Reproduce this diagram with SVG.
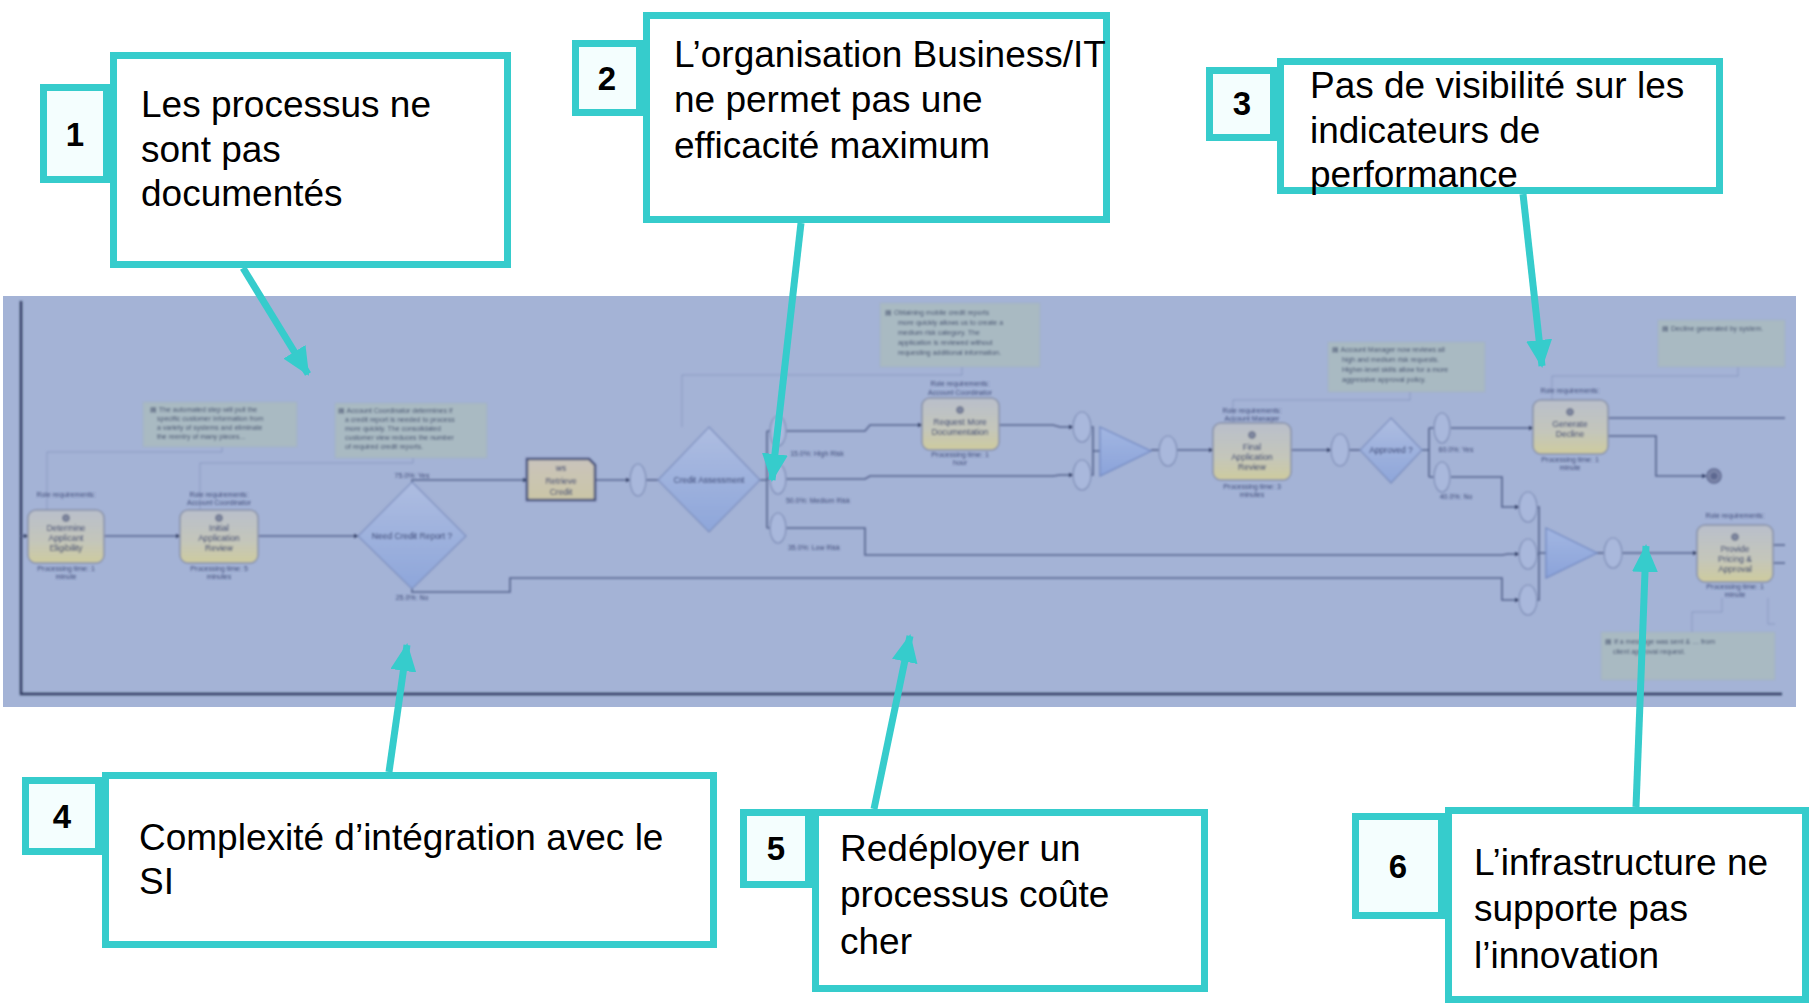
<svg xmlns="http://www.w3.org/2000/svg" width="1813" height="1004" viewBox="0 0 1813 1004">
<style>
.box{fill:#ffffff;stroke:#36CCCC;stroke-width:7}
.nbox{fill:#F4FEFE;stroke:#36CCCC;stroke-width:7}
.ct{font-family:"Liberation Sans",Arial,sans-serif;font-size:37px;fill:#000}
.num{font-family:"Liberation Sans",Arial,sans-serif;font-size:33px;font-weight:bold;fill:#000;text-anchor:middle}
.lead{stroke:#36CCCC;stroke-width:7;fill:none}
.task{fill:url(#taskGrad);stroke:#8790A8;stroke-width:1.5}
.dia{fill:url(#diaGrad);stroke:#7C8EBE;stroke-width:1.2}
.tri{fill:url(#triGrad);stroke:#6F86C0;stroke-width:1.2}
.ov{fill:#A9B8DC;stroke:#7D8CB5;stroke-width:1.2}
.note{fill:#A9BAC2;stroke:#A2B1C8;stroke-width:1}
.flow{stroke:#56648E;stroke-width:1.6;fill:none}
.ann{stroke:#8A99C2;stroke-width:1;fill:none}
.tn{font-family:"Liberation Sans",Arial,sans-serif;font-size:8.5px;fill:#2F3B6B;text-anchor:middle}
.sm{font-family:"Liberation Sans",Arial,sans-serif;font-size:7px;fill:#3F4B78;text-anchor:middle}
.nt{font-family:"Liberation Sans",Arial,sans-serif;font-size:7px;fill:#44506E}
.ic{fill:#7E869E;stroke:#5E6784;stroke-width:0.8}
</style>
<defs>
<linearGradient id="taskGrad" x1="0" y1="0" x2="0" y2="1">
<stop offset="0" stop-color="#B9BFCB"/><stop offset="0.6" stop-color="#C4C6BA"/><stop offset="1" stop-color="#CECB9E"/>
</linearGradient>
<linearGradient id="diaGrad" x1="0" y1="0" x2="0" y2="1">
<stop offset="0" stop-color="#AEBDE1"/><stop offset="1" stop-color="#8EA6DA"/>
</linearGradient>
<linearGradient id="triGrad" x1="0" y1="0" x2="0" y2="1">
<stop offset="0" stop-color="#A2B6E2"/><stop offset="1" stop-color="#8BA3DA"/>
</linearGradient>
<linearGradient id="retGrad" x1="0" y1="0" x2="0" y2="1">
<stop offset="0" stop-color="#C9C4BC"/><stop offset="1" stop-color="#CBC6A6"/>
</linearGradient>
<marker id="ah" viewBox="0 0 10 10" refX="9" refY="5" markerWidth="5" markerHeight="5" markerUnits="userSpaceOnUse" orient="auto">
<path d="M0,0 L10,5 L0,10 z" fill="#2E3A62"/>
</marker>
<marker id="cyan" viewBox="0 0 28 26" refX="26" refY="13" markerWidth="28" markerHeight="26" markerUnits="userSpaceOnUse" orient="auto">
<path d="M0,0 L28,13 L0,26 z" fill="#36CCCC"/>
</marker>
<filter id="soft" x="-1%" y="-5%" width="102%" height="110%">
<feGaussianBlur stdDeviation="0.8"/>
</filter>
</defs>

<rect width="1813" height="1004" fill="#ffffff"/>

<!-- process panel -->
<g id="process-panel">
<rect x="3" y="296" width="1793" height="411" fill="#A4B3D6"/>
<g filter="url(#soft)">
<path d="M21,301 V694 H1782" stroke="#2D3B60" stroke-width="2.5" fill="none"/>

<g id="notes">
<rect class="note" x="143" y="402" width="154" height="45"/>
<text class="nt" x="150" y="412">&#9636; The automated step will pull the</text>
<text class="nt" x="157" y="421">specific customer information from</text>
<text class="nt" x="157" y="430">a variety of systems and eliminate</text>
<text class="nt" x="157" y="439">the reentry of many pieces...</text>
<rect class="note" x="335" y="403" width="152" height="55"/>
<text class="nt" x="338" y="413">&#9636; Account Coordinator determines if</text>
<text class="nt" x="345" y="422">a credit report is needed to process</text>
<text class="nt" x="345" y="431">more quickly.  The consolidated</text>
<text class="nt" x="345" y="440">customer view reduces the number</text>
<text class="nt" x="345" y="449">of required credit reports.</text>
<rect class="note" x="880" y="303" width="160" height="64"/>
<text class="nt" x="885" y="315">&#9636; Obtaining mobile credit reports</text>
<text class="nt" x="898" y="325">more quickly allows us to create a</text>
<text class="nt" x="898" y="335">medium risk category.  The</text>
<text class="nt" x="898" y="345">application is reviewed without</text>
<text class="nt" x="898" y="355">requesting additional information.</text>
<rect class="note" x="1328" y="342" width="157" height="50"/>
<text class="nt" x="1332" y="352">&#9636; Account Manager now reviews all</text>
<text class="nt" x="1342" y="362">high and medium risk requests.</text>
<text class="nt" x="1342" y="372">Higher-level skills allow for a more</text>
<text class="nt" x="1342" y="382">aggressive approval policy.</text>
<rect class="note" x="1658" y="320" width="127" height="47"/>
<text class="nt" x="1662" y="331">&#9636; Decline generated by system.</text>
<rect class="note" x="1601" y="632" width="174" height="48"/>
<text class="nt" x="1605" y="644">&#9636; If a message was sent &amp; &#8230; from</text>
<text class="nt" x="1613" y="654">client approval request.</text>
</g>

<g id="annotation-lines">
<path class="ann" d="M47,510 V452 H222 V447"/>
<path class="ann" d="M200,510 V463 H413 V458"/>
<path class="ann" d="M682,427 V375 H962 V367"/>
<path class="ann" d="M1233,423 V400 H1410 V392"/>
<path class="ann" d="M1552,400 V376 H1738 V367"/>
<path class="ann" d="M1722,598 V612 H1692 V632"/>
<path class="ann" d="M1768,598 V624 H1775"/>
</g>

<g id="flows">
<path class="flow" d="M21,536 H28" marker-end="url(#ah)"/>
<path class="flow" d="M104,536 H180" marker-end="url(#ah)"/>
<path class="flow" d="M258,536 H358" marker-end="url(#ah)"/>
<path class="flow" d="M412,482 V480 H527" marker-end="url(#ah)"/>
<path class="flow" d="M595,480 H630" marker-end="url(#ah)"/>
<path class="flow" d="M646,480 H658"/>
<path class="flow" d="M760,480 H767 M767,431 V528 M767,431 H770 M767,479 H770 M767,528 H770"/>
<path class="flow" d="M786,431 H865 L870,425 H922" marker-end="url(#ah)"/>
<path class="flow" d="M786,479 H865 L870,476 H1053 L1060,475 H1073" marker-end="url(#ah)"/>
<path class="flow" d="M786,528 H865 V555 H1502 L1508,554 H1519" marker-end="url(#ah)"/>
<path class="flow" d="M412,588 V592 H510 V578 H1502 V600 H1519" marker-end="url(#ah)"/>
<path class="flow" d="M999,425 H1053 L1060,427 H1073" marker-end="url(#ah)"/>
<path class="flow" d="M1091,427 H1093 V475 H1091 M1093,451 H1100"/>
<path class="flow" d="M1151,450 H1160"/>
<path class="flow" d="M1177,450 H1213" marker-end="url(#ah)"/>
<path class="flow" d="M1291,450 H1331" marker-end="url(#ah)"/>
<path class="flow" d="M1349,450 H1360"/>
<path class="flow" d="M1422,450 H1429 M1429,428 V477 M1429,428 H1434 M1429,477 H1434"/>
<path class="flow" d="M1451,428 H1533" marker-end="url(#ah)"/>
<path class="flow" d="M1451,477 H1502 V507 H1519" marker-end="url(#ah)"/>
<path class="flow" d="M1537,507 H1539 V600 H1537 M1539,554 H1537 M1539,553 H1546"/>
<path class="flow" d="M1597,553 H1605"/>
<path class="flow" d="M1622,553 H1697" marker-end="url(#ah)"/>
<path class="flow" d="M1608,418 H1785"/>
<path class="flow" d="M1608,436 H1656 V476 H1706" marker-end="url(#ah)"/>
<path class="flow" d="M1773,545 H1785 M1773,563 H1785"/>
</g>

<g id="task-determine">
<text class="sm" x="66" y="497">Role requirements:</text>
<rect class="task" x="28" y="510" width="76" height="53" rx="8"/>
<circle class="ic" cx="66" cy="518" r="3.5"/>
<text class="tn" x="66" y="531">Determine</text>
<text class="tn" x="66" y="541">Applicant</text>
<text class="tn" x="66" y="551">Eligibility</text>
<text class="sm" x="66" y="571">Processing time: 1</text>
<text class="sm" x="66" y="579">minute</text>
</g>
<g id="task-initial">
<text class="sm" x="219" y="497">Role requirements:</text>
<text class="sm" x="219" y="505">Account Coordinator</text>
<rect class="task" x="180" y="510" width="78" height="53" rx="8"/>
<circle class="ic" cx="219" cy="518" r="3.5"/>
<text class="tn" x="219" y="531">Initial</text>
<text class="tn" x="219" y="541">Application</text>
<text class="tn" x="219" y="551">Review</text>
<text class="sm" x="219" y="571">Processing time: 5</text>
<text class="sm" x="219" y="579">minutes</text>
</g>
<g id="gw-need-credit">
<polygon class="dia" points="412,482 466,536 412,589 358,536"/>
<text class="tn" x="412" y="539">Need Credit Report ?</text>
<text class="sm" x="412" y="478">75.0%: Yes</text>
<text class="sm" x="412" y="600">25.0%: No</text>
</g>
<g id="task-retrieve">
<path d="M527,459 H589 L595,465 V500 H527 Z" fill="url(#retGrad)" stroke="#4B577F" stroke-width="2.5"/>
<text class="tn" x="561" y="471">ws</text>
<text class="tn" x="561" y="484">Retrieve</text>
<text class="tn" x="561" y="495">Credit</text>
</g>
<g id="merge-1">
<ellipse class="ov" cx="638" cy="480" rx="8" ry="16"/>
</g>
<g id="gw-credit">
<polygon class="dia" points="709,427 760,480 709,532 658,480"/>
<text class="tn" x="709" y="483">Credit Assessment</text>
</g>
<g id="risk-branches">
<ellipse class="ov" cx="778" cy="431" rx="8" ry="15"/>
<ellipse class="ov" cx="778" cy="479" rx="8" ry="15"/>
<ellipse class="ov" cx="778" cy="528" rx="8" ry="15"/>
<text class="sm" x="817" y="456">15.0%: High Risk</text>
<text class="sm" x="818" y="503">50.0%: Medium Risk</text>
<text class="sm" x="814" y="550">35.0%: Low Risk</text>
</g>
<g id="task-request">
<text class="sm" x="960" y="386">Role requirements:</text>
<text class="sm" x="960" y="395">Account Coordinator</text>
<rect class="task" x="922" y="398" width="77" height="52" rx="8"/>
<circle class="ic" cx="960" cy="410" r="3.5"/>
<text class="tn" x="960" y="425">Request More</text>
<text class="tn" x="960" y="435">Documentation</text>
<text class="sm" x="960" y="457">Processing time: 1</text>
<text class="sm" x="960" y="465">hour</text>
</g>
<g id="join-1">
<ellipse class="ov" cx="1082" cy="427" rx="9" ry="15"/>
<ellipse class="ov" cx="1082" cy="475" rx="9" ry="15"/>
<polygon class="tri" points="1100,427 1151,451 1100,476"/>
<ellipse class="ov" cx="1168" cy="451" rx="9" ry="15"/>
</g>
<g id="task-final">
<text class="sm" x="1252" y="413">Role requirements:</text>
<text class="sm" x="1252" y="421">Account Manager</text>
<rect class="task" x="1213" y="423" width="78" height="57" rx="8"/>
<circle class="ic" cx="1252" cy="435" r="3.5"/>
<text class="tn" x="1252" y="450">Final</text>
<text class="tn" x="1252" y="460">Application</text>
<text class="tn" x="1252" y="470">Review</text>
<text class="sm" x="1252" y="489">Processing time: 3</text>
<text class="sm" x="1252" y="497">minutes</text>
</g>
<g id="gw-approved">
<ellipse class="ov" cx="1340" cy="450" rx="9" ry="16"/>
<polygon class="dia" points="1391,418 1422,450 1391,483 1360,450"/>
<text class="tn" x="1391" y="453">Approved ?</text>
<ellipse class="ov" cx="1442" cy="428" rx="8" ry="15"/>
<ellipse class="ov" cx="1442" cy="477" rx="8" ry="15"/>
<text class="sm" x="1456" y="452">60.0%: Yes</text>
<text class="sm" x="1456" y="499">40.0%: No</text>
</g>
<g id="task-decline">
<text class="sm" x="1570" y="393">Role requirements:</text>
<rect class="task" x="1533" y="400" width="75" height="54" rx="8"/>
<circle class="ic" cx="1570" cy="412" r="3.5"/>
<text class="tn" x="1570" y="427">Generate</text>
<text class="tn" x="1570" y="437">Decline</text>
<text class="sm" x="1570" y="462">Processing time: 1</text>
<text class="sm" x="1570" y="470">minute</text>
</g>
<g id="end-event">
<circle cx="1714" cy="476" r="7" fill="#7D87AB" stroke="#5D6890" stroke-width="1.5"/>
<circle cx="1714" cy="476" r="3.5" fill="#5D6890"/>
</g>
<g id="join-2">
<ellipse class="ov" cx="1528" cy="507" rx="9" ry="15"/>
<ellipse class="ov" cx="1528" cy="554" rx="9" ry="15"/>
<ellipse class="ov" cx="1528" cy="600" rx="9" ry="15"/>
<polygon class="tri" points="1546,528 1597,553 1546,578"/>
<ellipse class="ov" cx="1613" cy="553" rx="9" ry="15"/>
</g>
<g id="task-pricing">
<text class="sm" x="1735" y="518">Role requirements:</text>
<rect class="task" x="1697" y="525" width="76" height="57" rx="8"/>
<circle class="ic" cx="1735" cy="537" r="3.5"/>
<text class="tn" x="1735" y="552">Provide</text>
<text class="tn" x="1735" y="562">Pricing &amp;</text>
<text class="tn" x="1735" y="572">Approval</text>
<text class="sm" x="1735" y="589">Processing time: 1</text>
<text class="sm" x="1735" y="597">minute</text>
</g>
</g>
</g>

<!-- callout leaders -->
<g id="connectors">
<line class="lead" x1="243" y1="268" x2="308" y2="374" marker-end="url(#cyan)"/>
<line class="lead" x1="801" y1="223" x2="772" y2="480" marker-end="url(#cyan)"/>
<line class="lead" x1="1523" y1="194" x2="1542" y2="366" marker-end="url(#cyan)"/>
<line class="lead" x1="389" y1="772" x2="407" y2="645" marker-end="url(#cyan)"/>
<line class="lead" x1="874" y1="809" x2="910" y2="636" marker-end="url(#cyan)"/>
<line class="lead" x1="1636" y1="807" x2="1646" y2="546" marker-end="url(#cyan)"/>
</g>

<g id="callout-1">
<rect class="box" x="113.5" y="55.5" width="394" height="209"/>
<rect class="nbox" x="43.5" y="87.5" width="63" height="92"/>
<text class="num" x="75" y="146">1</text>
<text class="ct" x="141" y="117">Les processus ne</text>
<text class="ct" x="141" y="162">sont pas</text>
<text class="ct" x="141" y="206">documentés</text>
</g>
<g id="callout-2">
<rect class="box" x="646.5" y="15.5" width="460" height="204"/>
<rect class="nbox" x="575.5" y="43.5" width="64" height="69"/>
<text class="num" x="607" y="90">2</text>
<text class="ct" x="674" y="67">L’organisation Business/IT</text>
<text class="ct" x="674" y="112">ne permet pas une</text>
<text class="ct" x="674" y="158">efficacité maximum</text>
</g>
<g id="callout-3">
<rect class="box" x="1280.5" y="61.5" width="439" height="129"/>
<rect class="nbox" x="1209.5" y="70.5" width="64" height="67"/>
<text class="num" x="1242" y="115">3</text>
<text class="ct" x="1310" y="98">Pas de visibilité sur les</text>
<text class="ct" x="1310" y="143">indicateurs de</text>
<text class="ct" x="1310" y="187">performance</text>
</g>
<g id="callout-4">
<rect class="box" x="105.5" y="775.5" width="608" height="169"/>
<rect class="nbox" x="25.5" y="780.5" width="73" height="71"/>
<text class="num" x="62" y="828">4</text>
<text class="ct" x="139" y="850">Complexité d’intégration avec le</text>
<text class="ct" x="139" y="894">SI</text>
</g>
<g id="callout-5">
<rect class="box" x="815.5" y="812.5" width="389" height="176"/>
<rect class="nbox" x="743.5" y="812.5" width="65" height="72"/>
<text class="num" x="776" y="860">5</text>
<text class="ct" x="840" y="861">Redéployer un</text>
<text class="ct" x="840" y="907">processus coûte</text>
<text class="ct" x="840" y="954">cher</text>
</g>
<g id="callout-6">
<rect class="box" x="1448.5" y="810.5" width="357" height="189"/>
<rect class="nbox" x="1355.5" y="816.5" width="86" height="99"/>
<text class="num" x="1398" y="878">6</text>
<text class="ct" x="1474" y="875">L’infrastructure ne</text>
<text class="ct" x="1474" y="921">supporte pas</text>
<text class="ct" x="1474" y="968">l’innovation</text>
</g>
</svg>
